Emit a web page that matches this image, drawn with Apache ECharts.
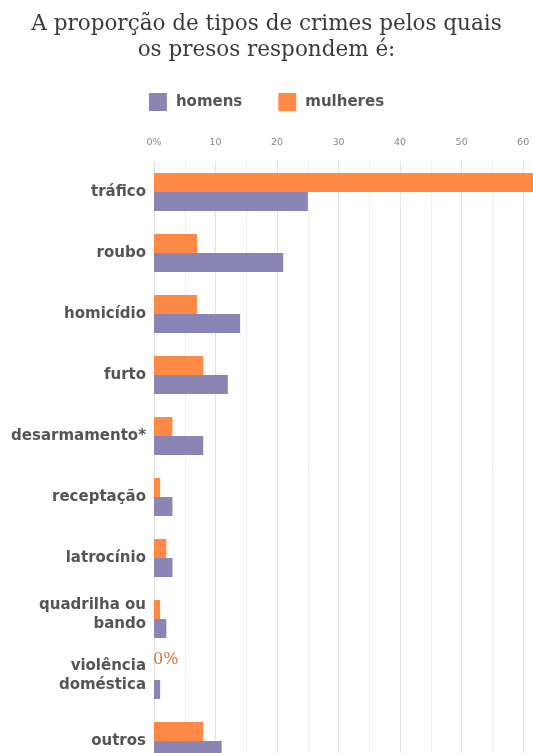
<!DOCTYPE html>
<html><head><meta charset="utf-8">
<script src="https://cdn.jsdelivr.net/npm/echarts@6/dist/echarts.min.js"></script>
<style>html,body{margin:0;padding:0;background:#fff;overflow:hidden}#c{width:533px;height:772px}</style>
</head><body><div id="c"></div>
<script>
const categories = ['tráfico','roubo','homicídio','furto','desarmamento*','receptação','latrocínio','quadrilha ou\nbando','violência\ndoméstica','outros'];
const homens = [25, 21, 14, 12, 8, 3, 3, 2, 1, 11];
const mulheres = [62, 7, 7, 8, 3, 1, 2, 1, 0, 8];
const tickLabels = {0:'0%',10:'10',20:'20',30:'30',40:'40',50:'50',60:'60'};

const chart = echarts.init(document.getElementById('c'), null, {renderer:'canvas'});
chart.setOption({
  animation:false,
  backgroundColor:'#fff',
  title:{
    text:'A proporção de tipos de crimes pelos quais\nos presos respondem é:',
    left:'center', top:6,
    textStyle:{fontFamily:'DejaVu Serif', fontSize:21.5, fontWeight:'normal', color:'#3a3a3a', lineHeight:26}
  },
  legend:{
    data:['homens','mulheres'], top:88, left:'center',
    itemWidth:18, itemHeight:18, itemGap:36,
    textStyle:{fontFamily:'DejaVu Sans', fontSize:15, fontWeight:'bold', color:'#555', padding:[0,0,0,4]},
    icon:'rect'
  },
  grid:{left:154, right:0, top:161.5, height:610, containLabel:false},
  xAxis:{
    type:'value', position:'top', min:0, max:61.6, interval:5,
    axisLine:{show:false}, axisTick:{show:false},
    axisLabel:{margin:14, fontFamily:'DejaVu Sans', fontSize:9.5, color:'#888',
      formatter:v=> (tickLabels[v]!==undefined ? tickLabels[v] : ''), showMaxLabel:false},
    splitLine:{show:true, lineStyle:{color:['#e6e3e3','#f1eeee'], width:1}}
  },
  yAxis:{
    type:'category', data:categories, inverse:true,
    axisLine:{show:false}, axisTick:{show:false},
    axisLabel:{margin:8, fontFamily:'DejaVu Sans', fontSize:15, fontWeight:'bold', color:'#555', lineHeight:19, align:'right',
      formatter:v => v.indexOf('\n')>=0 ? v + '\n{s| }' : v,
      rich:{s:{fontSize:6, lineHeight:9}}}
  },
  series:[
    {name:'mulheres', type:'bar', data:mulheres.map((v,i)=> i===8 ? {value:v, label:{show:true, position:'right', distance:-1, offset:[0,-11], formatter:'0%', fontFamily:'DejaVu Serif', fontSize:16, color:'#d9743c'}} : v),
      barWidth:19, barGap:'0%', itemStyle:{color:'#ff8a45'}},
    {name:'homens', type:'bar', data:homens, barWidth:19, barGap:'0%', itemStyle:{color:'#8a85b5'}}
  ]
});
</script></body></html>
